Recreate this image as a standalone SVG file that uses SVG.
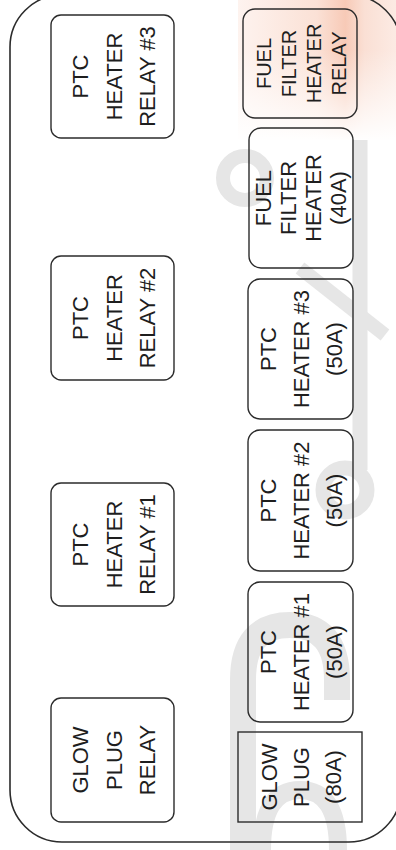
<svg xmlns="http://www.w3.org/2000/svg" width="396" height="850" viewBox="0 0 396 850">
  <style>
    .box { fill: none; stroke: #2b2b2b; stroke-width: 1.4; }
    .frame { fill: none; stroke: #2b2b2b; stroke-width: 1.6; }
    .lbl { font-family: "Liberation Sans", Arial, sans-serif; font-size: 22px; fill: #1e1e1e; text-anchor: middle; }
    .sm { font-size: 20px; }
    .wm { fill: none; stroke: #e6e6e6; stroke-linecap: butt; }
  </style>
  <defs>
    <linearGradient id="peach" x1="0" y1="0" x2="1" y2="0">
      <stop offset="0" stop-color="#fdeee8"/>
      <stop offset="0.5" stop-color="#f9d4c4"/>
      <stop offset="0.68" stop-color="#f4b398"/>
      <stop offset="0.8" stop-color="#f8d2c2"/>
      <stop offset="1" stop-color="#fbe2d8"/>
    </linearGradient>
    <linearGradient id="fade" x1="0" y1="0" x2="0" y2="1">
      <stop offset="0" stop-color="#fff" stop-opacity="0"/>
      <stop offset="1" stop-color="#fff" stop-opacity="1"/>
    </linearGradient>
  </defs>
  <rect width="396" height="850" fill="#ffffff"/>

  <!-- faint background watermark -->
  <g id="watermark">
    <rect x="238" y="0" width="158" height="140" fill="url(#peach)" opacity="0.7"/>
    <rect x="238" y="50" width="158" height="92" fill="url(#fade)"/>
    <path class="wm" d="M360 140 V470" stroke-width="15"/>
    <circle class="wm" cx="345" cy="490" r="22" stroke-width="15"/>
    <circle class="wm" cx="245" cy="178" r="22" stroke-width="14"/>
    <path class="wm" d="M300 268 L385 335" stroke-width="14"/>
    <path class="wm" d="M243 850 V680 Q243 625 290 625 Q337 625 337 680 V700" stroke-width="26"/>
    <path class="wm" d="M262 850 Q262 790 300 790 Q338 790 338 850" stroke-width="18"/>
  </g>

  <g id="frame">
    <rect class="frame" x="10" y="-5" width="391" height="847" rx="52" ry="52"/>
  </g>

  <g id="connectors"></g>

  <g id="ptc-heater-relay-3">
    <rect class="box" x="51" y="15" width="123" height="123" rx="10"/>
    <text class="lbl" transform="translate(88,76.5) rotate(-90)"><tspan x="0" y="0">PTC</tspan><tspan x="0" y="33.5">HEATER</tspan><tspan x="0" y="67">RELAY #3</tspan></text>
  </g>
  <g id="ptc-heater-relay-2">
    <rect class="box" x="51" y="256" width="123" height="124" rx="10"/>
    <text class="lbl" transform="translate(88,318) rotate(-90)"><tspan x="0" y="0">PTC</tspan><tspan x="0" y="33.5">HEATER</tspan><tspan x="0" y="67">RELAY #2</tspan></text>
  </g>
  <g id="ptc-heater-relay-1">
    <rect class="box" x="51" y="483" width="123" height="123" rx="10"/>
    <text class="lbl" transform="translate(88,544.5) rotate(-90)"><tspan x="0" y="0">PTC</tspan><tspan x="0" y="33.5">HEATER</tspan><tspan x="0" y="67">RELAY #1</tspan></text>
  </g>
  <g id="glow-plug-relay">
    <rect class="box" x="51" y="698" width="123" height="124" rx="10"/>
    <text class="lbl" transform="translate(88,760) rotate(-90)"><tspan x="0" y="0">GLOW</tspan><tspan x="0" y="33.5">PLUG</tspan><tspan x="0" y="67">RELAY</tspan></text>
  </g>

  <g id="fuel-filter-heater-relay">
    <rect class="box" x="243" y="9" width="114" height="109" rx="12"/>
    <text class="lbl sm" transform="translate(270.5,63.5) rotate(-90)"><tspan x="0" y="0">FUEL</tspan><tspan x="0" y="25">FILTER</tspan><tspan x="0" y="50">HEATER</tspan><tspan x="0" y="75">RELAY</tspan></text>
  </g>
  <g id="fuel-filter-heater-40a">
    <rect class="box" x="249" y="128" width="104" height="140" rx="12"/>
    <text class="lbl" transform="translate(270.5,198) rotate(-90)"><tspan x="0" y="0">FUEL</tspan><tspan x="0" y="25">FILTER</tspan><tspan x="0" y="50">HEATER</tspan><tspan x="0" y="75">(40A)</tspan></text>
  </g>
  <g id="ptc-heater-3">
    <rect class="box" x="248" y="279" width="105" height="140" rx="12"/>
    <text class="lbl" transform="translate(276,349) rotate(-90)"><tspan x="0" y="0">PTC</tspan><tspan x="0" y="33">HEATER #3</tspan><tspan x="0" y="66">(50A)</tspan></text>
  </g>
  <g id="ptc-heater-2">
    <rect class="box" x="248" y="430" width="105" height="141" rx="12"/>
    <text class="lbl" transform="translate(276,500.5) rotate(-90)"><tspan x="0" y="0">PTC</tspan><tspan x="0" y="33">HEATER #2</tspan><tspan x="0" y="66">(50A)</tspan></text>
  </g>
  <g id="ptc-heater-1">
    <rect class="box" x="248" y="582" width="105" height="140" rx="12"/>
    <text class="lbl" transform="translate(276,652) rotate(-90)"><tspan x="0" y="0">PTC</tspan><tspan x="0" y="33">HEATER #1</tspan><tspan x="0" y="66">(50A)</tspan></text>
  </g>
  <g id="glow-plug-80a">
    <rect class="box" x="238" y="732" width="124" height="90"/>
    <text class="lbl" transform="translate(277,777) rotate(-90)"><tspan x="0" y="0">GLOW</tspan><tspan x="0" y="32">PLUG</tspan><tspan x="0" y="64">(80A)</tspan></text>
  </g>
</svg>
